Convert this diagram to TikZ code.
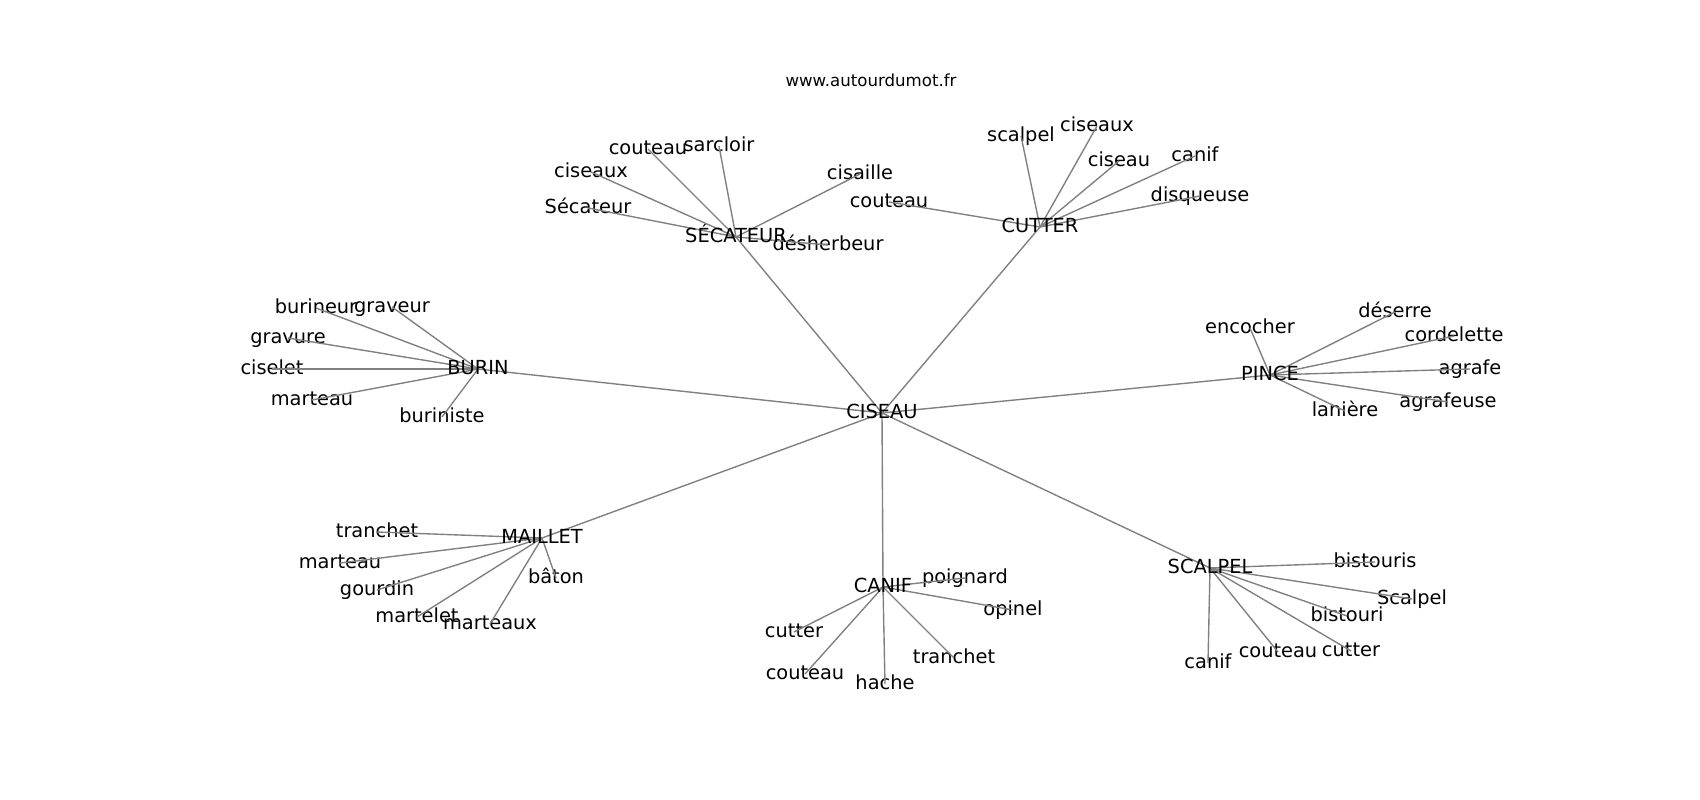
\documentclass[tikz,border=0pt]{standalone}
\usepackage{fontspec}
\setmainfont{DejaVu Sans}
\pgfdeclarelayer{background}
\pgfsetlayers{background,main}

\begin{document}
\begin{tikzpicture}[x=0.01in,y=-0.01in,
    word/.style={inner sep=0pt,font=\fontsize{14}{17}\selectfont,text height=10.6pt,text depth=3.3pt},
    link/.style={draw=gray,line width=1pt}]
  \useasboundingbox (0,0) rectangle (1700,800);
  \node[inner sep=0pt,font=\fontsize{12}{14}\selectfont,text height=9.1pt,text depth=2.8pt] (site) at (871,82) {www.autourdumot.fr};
  \node[word] (ciseau) at (882,413) {CISEAU};
  \node[word] (secateur) at (736,237) {SÉCATEUR};
  \node[word] (cutter) at (1040,227) {CUTTER};
  \node[word] (burin) at (478,369) {BURIN};
  \node[word] (pince) at (1270,375) {PINCE};
  \node[word] (maillet) at (542,538) {MAILLET};
  \node[word] (canif) at (883,587) {CANIF};
  \node[word] (scalpel) at (1210,568) {SCALPEL};
  \begin{pgfonlayer}{background}
    \foreach \hub in {secateur,cutter,burin,pince,maillet,canif,scalpel}
      \draw[link] (ciseau.center) -- (\hub.center);
    \foreach \n/\x/\y/\t in {s1/648/149/couteau,s2/719/146/sarcloir,s3/591/172/ciseaux,
        s4/588/208/Sécateur,s5/860/174/cisaille,s6/828/245/désherbeur}{
      \node[word] (\n) at (\x,\y) {\t};
      \draw[link] (secateur.center) -- (\n.center);}
    \foreach \n/\x/\y/\t in {c1/889/202/couteau,c2/1021/136/scalpel,c3/1097/126/ciseaux,
        c4/1119/161/ciseau,c5/1195/156/canif,c6/1200/196/disqueuse}{
      \node[word] (\n) at (\x,\y) {\t};
      \draw[link] (cutter.center) -- (\n.center);}
    \foreach \n/\x/\y/\t in {b1/316/308/burineur,b2/392/307/graveur,b3/288/338/gravure,
        b4/272/369/ciselet,b5/312/400/marteau,b6/442/417/buriniste}{
      \node[word] (\n) at (\x,\y) {\t};
      \draw[link] (burin.center) -- (\n.center);}
    \foreach \n/\x/\y/\t in {p1/1250/328/encocher,p2/1395/312/déserre,p3/1454/336/cordelette,
        p4/1470/369/agrafe,p5/1448/402/agrafeuse,p6/1345/411/lanière}{
      \node[word] (\n) at (\x,\y) {\t};
      \draw[link] (pince.center) -- (\n.center);}
    \foreach \n/\x/\y/\t in {m1/377/532/tranchet,m2/340/563/marteau,m3/377/590/gourdin,
        m4/417/617/martelet,m5/490/624/marteaux,m6/556/578/bâton}{
      \node[word] (\n) at (\x,\y) {\t};
      \draw[link] (maillet.center) -- (\n.center);}
    \foreach \n/\x/\y/\t in {k1/965/578/poignard,k2/1013/610/opinel,k3/794/632/cutter,
        k4/954/658/tranchet,k5/805/674/couteau,k6/885/684/hache}{
      \node[word] (\n) at (\x,\y) {\t};
      \draw[link] (canif.center) -- (\n.center);}
    \foreach \n/\x/\y/\t in {l1/1375/562/bistouris,l2/1412/599/Scalpel,l3/1347/616/bistouri,
        l4/1278/652/couteau,l5/1351/651/cutter,l6/1208/663/canif}{
      \node[word] (\n) at (\x,\y) {\t};
      \draw[link] (scalpel.center) -- (\n.center);}
  \end{pgfonlayer}
\end{tikzpicture}
\end{document}
